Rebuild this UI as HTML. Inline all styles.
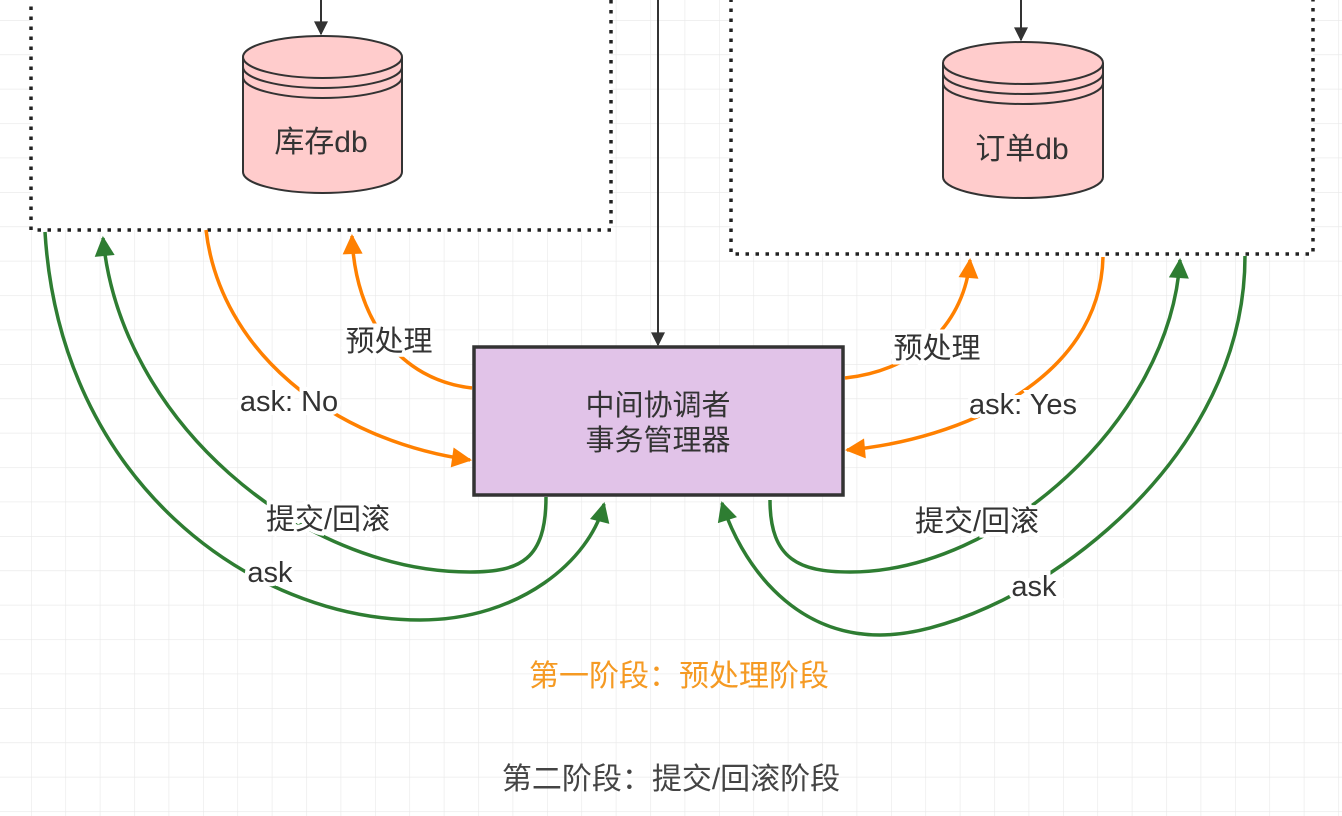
<!DOCTYPE html>
<html><head><meta charset="utf-8"><style>
html,body{margin:0;padding:0;background:#fff;}
svg{display:block}
text{font-family:"Liberation Sans","Noto Sans CJK SC",sans-serif;}
</style></head><body>
<svg width="1342" height="816" viewBox="0 0 1342 816" xmlns="http://www.w3.org/2000/svg">
<defs>
<pattern id="g" x="31" y="20" width="34.4" height="34.4" patternUnits="userSpaceOnUse">
<path d="M0 0H34.4M0 0V34.4" stroke="#e8e8e8" stroke-width="1.2" fill="none"/>
</pattern>
<marker id="ag" viewBox="0 0 10 10" refX="9" refY="5" markerWidth="22" markerHeight="20" markerUnits="userSpaceOnUse" orient="auto"><path d="M0,0L10,5L0,10z" fill="#2e7d32"/></marker>
<marker id="ao" viewBox="0 0 10 10" refX="9" refY="5" markerWidth="22" markerHeight="20" markerUnits="userSpaceOnUse" orient="auto"><path d="M0,0L10,5L0,10z" fill="#ff8000"/></marker>
<marker id="ak" viewBox="0 0 10 10" refX="9" refY="5" markerWidth="16" markerHeight="14" markerUnits="userSpaceOnUse" orient="auto"><path d="M0,0L10,5L0,10z" fill="#333"/></marker>
</defs>
<rect width="1342" height="816" fill="url(#g)"/>
<rect x="31" y="-20" width="580" height="250" fill="#fff" stroke="#222" stroke-width="3.5" stroke-dasharray="3.5,6.5"/>
<rect x="731" y="-20" width="582" height="274" fill="#fff" stroke="#222" stroke-width="3.5" stroke-dasharray="3.5,6.5"/>
<line x1="321" y1="0" x2="321" y2="34" stroke="#333" stroke-width="2" marker-end="url(#ak)"/>
<line x1="1021" y1="0" x2="1021" y2="40" stroke="#333" stroke-width="2" marker-end="url(#ak)"/>
<line x1="658" y1="0" x2="658" y2="345" stroke="#333" stroke-width="2" marker-end="url(#ak)"/>
<g stroke="#333" stroke-width="2" fill="#ffcccc">
<path d="M243,57 A79.5,21 0 0 1 402,57 V172 A79.5,21 0 0 1 243,172 Z"/>
<path d="M243,57 A79.5,21 0 0 0 402,57" fill="none"/>
<path d="M243,67 A79.5,21 0 0 0 402,67" fill="none"/>
<path d="M243,77 A79.5,21 0 0 0 402,77" fill="none"/>
<path d="M943,63 A80,21 0 0 1 1103,63 V177 A80,21 0 0 1 943,177 Z"/>
<path d="M943,63 A80,21 0 0 0 1103,63" fill="none"/>
<path d="M943,73 A80,21 0 0 0 1103,73" fill="none"/>
<path d="M943,83 A80,21 0 0 0 1103,83" fill="none"/>
</g>
<text x="321" y="152" font-size="30" fill="#333" text-anchor="middle">库存db</text>
<text x="1022" y="159" font-size="30" fill="#333" text-anchor="middle">订单db</text>
<rect x="474" y="347" width="369" height="148" fill="#e1c3e8" stroke="#333" stroke-width="3.5"/>
<text x="658" y="415" font-size="29" fill="#333" text-anchor="middle">中间协调者</text>
<text x="658" y="450" font-size="29" fill="#333" text-anchor="middle">事务管理器</text>
<g fill="none" stroke-width="3.5">
<path d="M45,232 C60,480 250,620 420,620 C520,620 590,560 604,504" stroke="#2e7d32" marker-end="url(#ag)"/>
<path d="M546,497 C546,560 520,572 470,572 C300,572 120,420 103,238" stroke="#2e7d32" marker-end="url(#ag)"/>
<path d="M206,230 C220,350 330,440 470,460" stroke="#ff8000" marker-end="url(#ao)"/>
<path d="M472,388 C400,380 355,320 352,236" stroke="#ff8000" marker-end="url(#ao)"/>
<path d="M845,378 C920,370 965,320 970,260" stroke="#ff8000" marker-end="url(#ao)"/>
<path d="M1103,257 C1100,380 960,440 847,450" stroke="#ff8000" marker-end="url(#ao)"/>
<path d="M770,500 C770,560 800,572 850,572 C1000,572 1170,420 1180,260" stroke="#2e7d32" marker-end="url(#ag)"/>
<path d="M1245,256 C1245,480 1000,635 880,635 C790,635 740,560 722,503" stroke="#2e7d32" marker-end="url(#ag)"/>
</g>
<g font-size="29" fill="#333" text-anchor="middle" stroke="#fff" stroke-width="8" paint-order="stroke">
<text x="389" y="351">预处理</text>
<text x="289" y="411">ask: No</text>
<text x="328" y="529">提交/回滚</text>
<text x="270" y="582">ask</text>
<text x="937" y="358">预处理</text>
<text x="1023" y="414">ask: Yes</text>
<text x="977" y="531">提交/回滚</text>
<text x="1034" y="596">ask</text>
</g>
<text x="679" y="686" font-size="30" fill="#f59a23" text-anchor="middle">第一阶段：预处理阶段</text>
<text x="671" y="789" font-size="30" fill="#444" text-anchor="middle">第二阶段：提交/回滚阶段</text>
</svg>
</body></html>
